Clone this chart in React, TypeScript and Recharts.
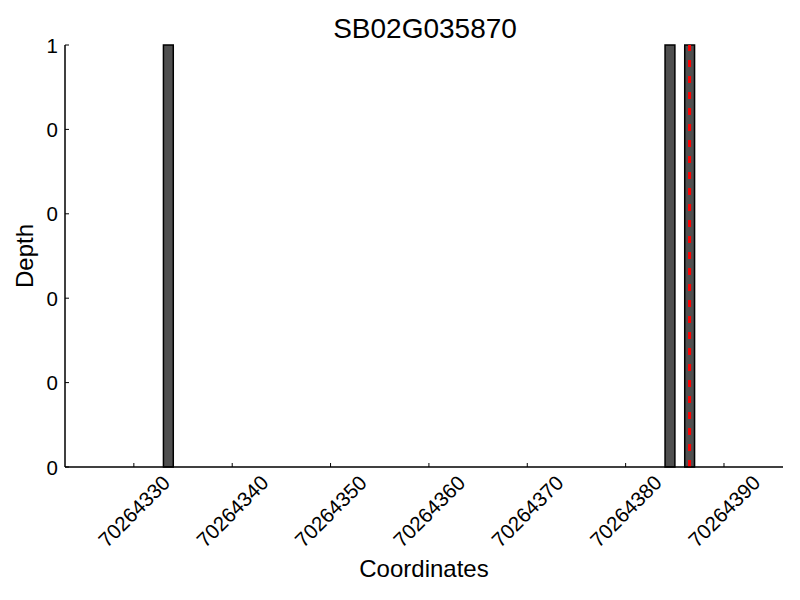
import { BarChart, Bar, XAxis, YAxis, ReferenceLine, Label } from "recharts"

// bar centres (each bar covers one base), depth at each
const coordinates = [70264333.5, 70264384.5, 70264386.5]
const depths = [1, 1, 1]
const xTicks = [70264330, 70264340, 70264350, 70264360, 70264370, 70264380, 70264390]
const yTicks = [0, 0.2, 0.4, 0.6, 0.8, 1]
const xDomain = [70264323, 70264396]
const snpPosition = 70264386.5
const title = "SB02G035870"

const W = 800
const H = 600
const MARGIN = { top: 45, right: 17, bottom: 0, left: 0 }
const Y_AXIS_W = 65
const X_AXIS_H = 133
const PLOT_W = W - MARGIN.left - MARGIN.right - Y_AXIS_W
const BAR_W = PLOT_W / (xDomain[1] - xDomain[0])
const FONT = "'Liberation Sans', Arial, sans-serif"

const data = coordinates.map((c, i) => ({ coord: c, depth: depths[i] }))

function XTick({ x, y, payload }: any) {
  const cy = y + 44
  return (
    <g>
      <line x1={x} x2={x} y1={y} y2={y - 4} stroke="#000" strokeWidth={1} />
      <text
        x={x}
        y={cy}
        textAnchor="middle"
        dominantBaseline="central"
        fontSize={20.5}
        fontFamily={FONT}
        fill="#000"
        transform={`rotate(-45, ${x}, ${cy})`}
      >
        {payload.value}
      </text>
    </g>
  )
}

function YTick({ x, y, payload }: any) {
  return (
    <g>
      <line x1={x} x2={x + 4} y1={y} y2={y} stroke="#000" strokeWidth={1} />
      <text x={x - 7} y={y} textAnchor="end" dominantBaseline="central" fontSize={20.5} fontFamily={FONT} fill="#000">
        {Math.floor(payload.value)}
      </text>
    </g>
  )
}

export default function App() {
  return (
    <div style={{ position: "absolute", left: 0, top: 0, width: W, height: H, background: "#fff" }}>
      <svg width={W} height={H} style={{ position: "absolute", left: 0, top: 0, pointerEvents: "none" }}>
        <text x={425} y={38} textAnchor="middle" fontSize={28} fontFamily={FONT} fill="#000">
          {title}
        </text>
      </svg>
      <BarChart width={W} height={H} data={data} margin={MARGIN}>
        <XAxis
          dataKey="coord"
          type="number"
          domain={xDomain}
          ticks={xTicks}
          allowDataOverflow
          height={X_AXIS_H}
          tickSize={0}
          tickMargin={0}
          tickLine={false}
          axisLine={{ stroke: "#000", strokeWidth: 1.5 }}
          tick={<XTick />}
          interval={0}
        >
          <Label
            content={({ viewBox }: any) => (
              <text
                x={viewBox.x + viewBox.width / 2}
                y={viewBox.y + viewBox.height - 23}
                textAnchor="middle"
                fontSize={24}
                fontFamily={FONT}
                fill="#000"
              >
                Coordinates
              </text>
            )}
          />
        </XAxis>
        <YAxis
          type="number"
          domain={[0, 1]}
          ticks={yTicks}
          width={Y_AXIS_W}
          tickSize={0}
          tickMargin={0}
          tickLine={false}
          axisLine={{ stroke: "#000", strokeWidth: 1.5 }}
          tick={<YTick />}
          interval={0}
        >
          <Label
            content={({ viewBox }: any) => {
              const cx = 33
              const cy = viewBox.y + viewBox.height / 2
              return (
                <text
                  x={cx}
                  y={cy}
                  textAnchor="middle"
                  fontSize={24}
                  fontFamily={FONT}
                  fill="#000"
                  transform={`rotate(-90, ${cx}, ${cy})`}
                >
                  Depth
                </text>
              )
            }}
          />
        </YAxis>
        <Bar dataKey="depth" fill="#4f4f4f" stroke="#000" strokeWidth={1.5} barSize={BAR_W} isAnimationActive={false} />
        <ReferenceLine x={snpPosition} stroke="#ff0000" strokeWidth={3} strokeDasharray="7 9" />
      </BarChart>
    </div>
  )
}
